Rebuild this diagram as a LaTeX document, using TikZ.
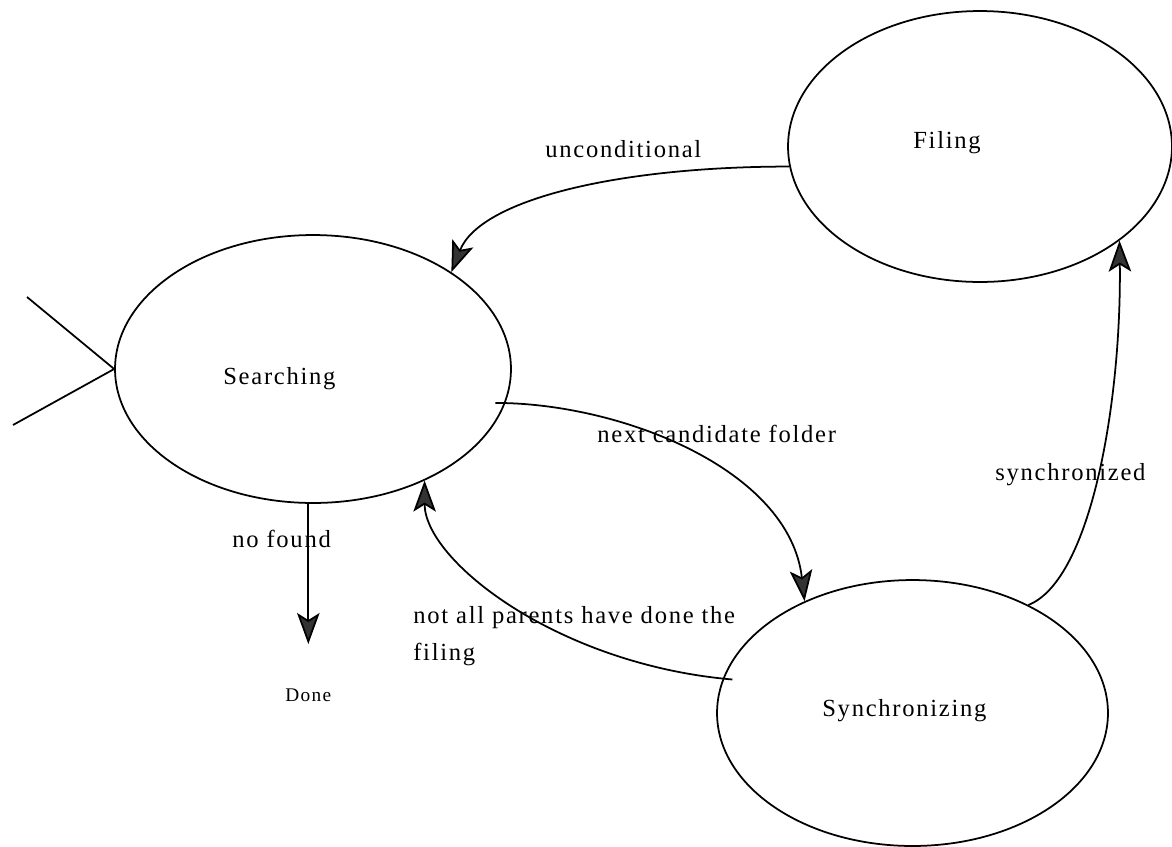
\documentclass[tikz,border=0pt]{standalone}
\usepackage{fontspec}
\setmainfont{Liberation Serif}[LetterSpace=7]
\usetikzlibrary{shapes.geometric,arrows.meta}
\begin{document}
\begin{tikzpicture}[x=0.02cm,y=-0.02cm,
  state/.style={draw, ellipse, line width=1pt, inner sep=0pt},
  txt/.style={inner sep=0pt, font=\fontsize{14pt}{21pt}\selectfont},
  smalltxt/.style={inner sep=0pt, font=\fontsize{11pt}{13pt}\selectfont},
  edge/.style={line width=1pt},
  arr/.style={edge, -{Stealth[length=6.2mm,width=4.5mm,inset=1.4mm,fill=black!80]}}]
\useasboundingbox (0,0) rectangle (1172,846);

% states
\node[state, minimum width=7.92cm, minimum height=5.36cm] (srch) at (313,369) {};
\node[state, minimum width=7.68cm, minimum height=5.42cm] (filing) at (980,146.5) {};
\node[state, minimum width=7.82cm, minimum height=5.32cm] (sync) at (912.5,713) {};

% state names
\node[txt, anchor=base west] (srchname) at (223,384) {Searching};
\node[txt, anchor=base west] (filingname) at (913,148) {Filing};
\node[txt, anchor=base west] (syncname) at (822,716) {Synchronizing};
\node[smalltxt, anchor=base west] (done) at (285,701) {Done};

% entry marker
\coordinate (e1) at (27,297);
\coordinate (e2) at (13,425);
\draw[edge] (e1) -- (srch.west) -- (e2);

% transitions
\draw[arr] (filing.186) .. controls +(-170,0) and +(29,-73) .. (srch.35);
\draw[arr] ([xshift=-0.2cm]srch.-10) .. controls +(125,0) and +(-15,-132) .. (sync.134);
\draw[arr] ([xshift=0.2cm]sync.170) .. controls +(-175,-15) and +(0,80) .. (srch.-45);
\draw[arr] (sync.43) .. controls +(63,-25) and +(2,160) .. (filing.-34);
\draw[arr] (srch.south -| done.north) -- ([yshift=0.88cm]done.north);

% transition labels
\node[txt, anchor=base west] (l1) at (545,157) {unconditional};
\node[txt, anchor=base west] (l2) at (597,442) {next candidate folder};
\node[txt, anchor=north west, align=left] (l3) at (413,606) {not all parents have done the\\filing};
\node[txt, anchor=base west] (l4) at (995,480) {synchronized};
\node[txt, anchor=base west] (l5) at (232,547) {no found};
\end{tikzpicture}
\end{document}
